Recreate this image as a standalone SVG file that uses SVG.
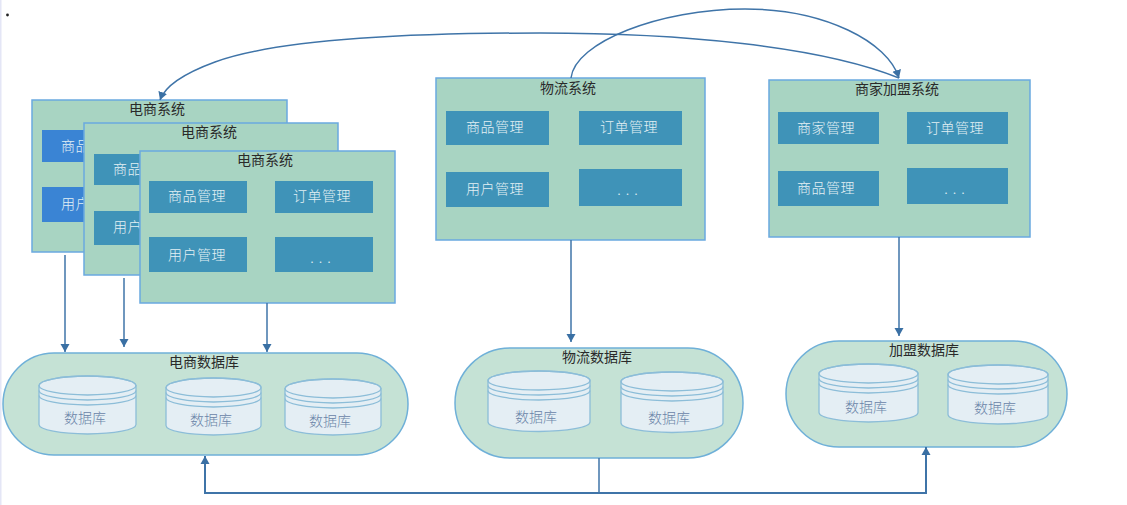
<svg xmlns="http://www.w3.org/2000/svg" width="1127" height="505" viewBox="0 0 1127 505">
<style>
text{font-family:"Noto Sans CJK SC","Liberation Sans",sans-serif;text-anchor:middle;dominant-baseline:central;font-size:14px;font-weight:300;transform:translate(-1px,-1px)}
.sys{fill:#a8d4c2;stroke:#6aa9e0;stroke-width:1.5}
.in{fill:#3f93b8}
.blue{fill:#3a84d4}
.t{fill:#2a2a2a;font-weight:400}
.w{fill:#e3f0f4;letter-spacing:.5px}
.dots{letter-spacing:5px}
.pill{fill:#c5e2d5;stroke:#6fb0d8;stroke-width:1.5}
.cy{fill:#e4eef4;stroke:#8cbdd8;stroke-width:1.3}
.cyl{fill:none;stroke:#8cbdd8;stroke-width:1.3}
.d{fill:#6a84a8}
.c{fill:none;stroke:#3f74a8;stroke-width:1.5}
</style>
<defs>
<marker id="a" markerUnits="userSpaceOnUse" markerWidth="9" markerHeight="10" refX="8" refY="5" orient="auto"><path d="M0 0.500L8 5L0 9.500z" fill="#3a70a4"/></marker>
</defs>
<rect width="1127" height="505" fill="#fff"/>
<rect x="0" y="0" width="1.5" height="505" fill="#e4e6f6"/>
<circle cx="7.500" cy="15" r="1.400" fill="#222"/>

<g id="sys1">
<rect class="sys" x="32" y="100" width="255" height="152"/>
<text class="t" x="158" y="109">电商系统</text>
<rect class="blue" x="42" y="130" width="98" height="32"/><text class="w" x="91" y="146">商品管理</text>
<rect class="blue" x="42" y="187" width="98" height="35"/><text class="w" x="91" y="204">用户管理</text>
</g>
<g id="sys2">
<rect class="sys" x="84" y="123" width="254" height="152"/>
<text class="t" x="210" y="132">电商系统</text>
<rect class="in" x="94" y="154" width="98" height="31"/><text class="w" x="143" y="169">商品管理</text>
<rect class="in" x="94" y="211" width="98" height="34"/><text class="w" x="143" y="227">用户管理</text>
</g>
<g id="sys3">
<rect class="sys" x="140" y="151" width="255" height="152"/>
<text class="t" x="266" y="160">电商系统</text>
<rect class="in" x="149" y="181" width="98" height="32"/><text class="w" x="198" y="196">商品管理</text>
<rect class="in" x="275" y="181" width="98" height="32"/><text class="w" x="323" y="196">订单管理</text>
<rect class="in" x="149" y="237" width="98" height="35"/><text class="w" x="198" y="255">用户管理</text>
<rect class="in" x="275" y="237" width="98" height="35"/><text class="w dots" x="324" y="258">...</text>
</g>
<g id="sys-logistics">
<rect class="sys" x="436" y="78" width="269" height="162"/>
<text class="t" x="569" y="88">物流系统</text>
<rect class="in" x="446" y="111" width="103" height="34"/><text class="w" x="496" y="127">商品管理</text>
<rect class="in" x="579" y="111" width="103" height="34"/><text class="w" x="630" y="127">订单管理</text>
<rect class="in" x="446" y="172" width="103" height="35"/><text class="w" x="496" y="189">用户管理</text>
<rect class="in" x="579" y="169" width="103" height="37"/><text class="w dots" x="631" y="190">...</text>
</g>
<g id="sys-merchant">
<rect class="sys" x="769" y="80" width="261" height="157"/>
<text class="t" x="898" y="89">商家加盟系统</text>
<rect class="in" x="778" y="112" width="101" height="32"/><text class="w" x="827" y="128">商家管理</text>
<rect class="in" x="907" y="112" width="101" height="32"/><text class="w" x="956" y="128">订单管理</text>
<rect class="in" x="778" y="171" width="101" height="35"/><text class="w" x="827" y="188">商品管理</text>
<rect class="in" x="907" y="168" width="101" height="36"/><text class="w dots" x="958" y="189">...</text>
</g>

<g id="db-shop">
<rect class="pill" x="3" y="353" width="405" height="102" rx="51"/>
<text class="t" x="205" y="362">电商数据库</text>
<g id="db-shop-1"><path class="cy" d="M39 385.500A48.500 9.500 0 0 1 136 385.500V424.500A48.500 9.500 0 0 1 39 424.500Z"/><ellipse class="cyl" cx="87.500" cy="385.500" rx="48.500" ry="9.500"/><path class="cyl" d="M39 390.500A48.500 9.500 0 0 0 136 390.500M39 395.500A48.500 9.500 0 0 0 136 395.500"/><text class="d" x="86" y="418">数据库</text></g>
<g id="db-shop-2"><path class="cy" d="M166 387.500A47.500 9.500 0 0 1 261 387.500V425.500A47.500 9.500 0 0 1 166 425.500Z"/><ellipse class="cyl" cx="213.500" cy="387.500" rx="47.500" ry="9.500"/><path class="cyl" d="M166 392.500A47.500 9.500 0 0 0 261 392.500M166 397.500A47.500 9.500 0 0 0 261 397.500"/><text class="d" x="212" y="420">数据库</text></g>
<g id="db-shop-3"><path class="cy" d="M285 388.500A48 9.500 0 0 1 381 388.500V425.500A48 9.500 0 0 1 285 425.500Z"/><ellipse class="cyl" cx="333" cy="388.500" rx="48" ry="9.500"/><path class="cyl" d="M285 393.500A48 9.500 0 0 0 381 393.500M285 398.500A48 9.500 0 0 0 381 398.500"/><text class="d" x="331" y="421">数据库</text></g>
</g>
<g id="db-logistics">
<rect class="pill" x="455" y="348" width="288" height="110" rx="55"/>
<text class="t" x="598" y="357">物流数据库</text>
<g id="db-logistics-1"><path class="cy" d="M488 380.500A51 9.500 0 0 1 590 380.500V422A51 9.500 0 0 1 488 422Z"/><ellipse class="cyl" cx="539" cy="380.500" rx="51" ry="9.500"/><path class="cyl" d="M488 385.500A51 9.500 0 0 0 590 385.500M488 390.500A51 9.500 0 0 0 590 390.500"/><text class="d" x="537" y="417">数据库</text></g>
<g id="db-logistics-2"><path class="cy" d="M621 381.500A51 9.500 0 0 1 723 381.500V423A51 9.500 0 0 1 621 423Z"/><ellipse class="cyl" cx="672" cy="381.500" rx="51" ry="9.500"/><path class="cyl" d="M621 386.500A51 9.500 0 0 0 723 386.500M621 391.500A51 9.500 0 0 0 723 391.500"/><text class="d" x="670" y="418">数据库</text></g>
</g>
<g id="db-merchant">
<rect class="pill" x="786" y="341" width="281" height="106" rx="53"/>
<text class="t" x="925" y="350">加盟数据库</text>
<g id="db-merchant-1"><path class="cy" d="M819 373.500A49.500 9.500 0 0 1 918 373.500V412.500A49.500 9.500 0 0 1 819 412.500Z"/><ellipse class="cyl" cx="868.500" cy="373.500" rx="49.500" ry="9.500"/><path class="cyl" d="M819 378.500A49.500 9.500 0 0 0 918 378.500M819 383.500A49.500 9.500 0 0 0 918 383.500"/><text class="d" x="867" y="407">数据库</text></g>
<g id="db-merchant-2"><path class="cy" d="M948 374.500A50 9.500 0 0 1 1048 374.500V414.500A50 9.500 0 0 1 948 414.500Z"/><ellipse class="cyl" cx="998" cy="374.500" rx="50" ry="9.500"/><path class="cyl" d="M948 379.500A50 9.500 0 0 0 1048 379.500M948 384.500A50 9.500 0 0 0 1048 384.500"/><text class="d" x="996" y="408">数据库</text></g>
</g>

<g id="connectors">
<path class="c" marker-end="url(#a)" d="M899 78C820 46 680 33 540 33C380 33 270 42 215 62C185 73 165 86 160 100"/>
<path class="c" marker-end="url(#a)" d="M571 78C575 42 660 9 745 9C825 9 888 42 899 78"/>
<path class="c" marker-end="url(#a)" d="M65 255V352"/>
<path class="c" marker-end="url(#a)" d="M124 278V347"/>
<path class="c" marker-end="url(#a)" d="M267 303V352"/>
<path class="c" marker-end="url(#a)" d="M571 240V342"/>
<path class="c" marker-end="url(#a)" d="M899 237V336"/>
<path class="c" d="M599 458V493"/>
<path class="c" style="stroke-width:2" marker-end="url(#a)" d="M599 493H205V456"/>
<path class="c" style="stroke-width:2" marker-end="url(#a)" d="M599 493H926V447"/>
</g>
</svg>
